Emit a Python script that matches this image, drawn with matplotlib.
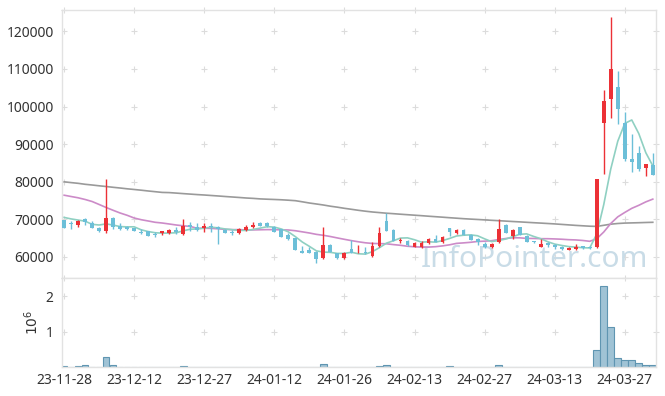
import numpy as np
import pandas as pd
import matplotlib
matplotlib.use('Agg')
import matplotlib.pyplot as plt

plt.rcParams['font.family'] = ['Noto Sans', 'DejaVu Sans']

# daily OHLC (23-11-28 .. 24-04-02, trading days)
opens = [69800, 69000, 68500, 70100, 69100, 67700, 66900, 70300, 68300, 68000,
         67600, 66700, 66900, 66100, 66300, 66400, 67100, 66000, 68500, 68000,
         67800, 68200, 68000, 67200, 66500, 66400, 67200, 67900, 69100, 68900,
         68000, 67300, 65800, 64900, 61600, 61800, 61400, 59600, 63200, 61000,
         59600, 62000, 61000, 61400, 60200, 62900, 69600, 67200, 64300, 64300,
         62700, 62500, 63600, 64800, 63900, 67600, 66400, 67100, 65800, 64800,
         63400, 62600, 64000, 68600, 65600, 67900, 65600, 64200, 62600, 63600,
         63200, 62700, 61800, 62000, 62900, 62600, 62500, 95500, 102100, 105100,
         95700, 86000, 87600, 83600, 84400]
highs = [69900, 69600, 69900, 70400, 69600, 67900, 80700, 70500, 69000, 68300,
         67800, 67400, 67000, 66700, 67000, 67300, 68000, 70000, 69300, 68900,
         68900, 68900, 68200, 67300, 67200, 67600, 68400, 69400, 69300, 69300,
         68300, 67400, 66300, 65000, 63000, 62600, 61500, 67900, 63300, 61100,
         61200, 64500, 63200, 62700, 64000, 68000, 71800, 67300, 65100, 64500,
         64000, 64100, 65000, 65800, 65600, 67800, 67300, 67300, 66000, 65000,
         64000, 63600, 70000, 68800, 67300, 68000, 65700, 64300, 64800, 63900,
         63300, 62900, 62500, 63300, 63000, 62900, 80700, 104400, 123700, 109500,
         98500, 92600, 89500, 84700, 87600]
lows = [67600, 67400, 67900, 68500, 67600, 66700, 66300, 67500, 67200, 67200,
        66800, 66000, 65500, 65300, 65700, 66200, 66000, 65900, 66900, 67000,
        66700, 66700, 63400, 66300, 65800, 66200, 66900, 67800, 68100, 68000,
        66600, 65300, 64500, 61700, 60900, 60900, 58300, 59500, 61300, 59500,
        59500, 60900, 60900, 60800, 60100, 62500, 66900, 64200, 63800, 63000,
        62500, 62300, 63300, 63900, 63700, 65500, 66000, 65700, 64400, 63100,
        62400, 62400, 63700, 66300, 64700, 65700, 63900, 63800, 62500, 62700,
        62000, 61900, 61700, 61900, 62200, 62100, 62400, 82000, 96900, 95400,
        85600, 82700, 82900, 81600, 81700]
closes = [67800, 68800, 69500, 69400, 67800, 66900, 70300, 67900, 67400, 67400,
          67000, 66300, 65600, 65800, 66900, 67100, 66700, 68200, 67900, 67200,
          68300, 67900, 67300, 66400, 66300, 67300, 67900, 68600, 68200, 68200,
          66700, 65400, 64800, 61800, 61000, 61000, 59400, 63200, 61400, 59600,
          61000, 61000, 61100, 61000, 62900, 66300, 67000, 64300, 64500, 63200,
          63800, 63800, 64800, 64000, 65200, 66700, 67100, 65800, 64500, 64000,
          62600, 63400, 67300, 66400, 67100, 65800, 64000, 63900, 63400, 63100,
          62600, 62200, 62400, 62700, 62300, 62300, 80700, 101500, 110000, 99300,
          86000, 85300, 83400, 84600, 81800]
volumes = [40000, 15000, 40000, 65000, 15000, 15000, 300000, 65000, 15000, 15000,
           15000, 10000, 15000, 10000, 10000, 10000, 15000, 40000, 15000, 10000,
           15000, 10000, 15000, 10000, 10000, 10000, 10000, 15000, 10000, 10000,
           15000, 15000, 15000, 20000, 15000, 15000, 20000, 90000, 20000, 15000,
           15000, 15000, 15000, 15000, 20000, 40000, 60000, 20000, 15000, 15000,
           15000, 15000, 15000, 15000, 15000, 40000, 15000, 15000, 15000, 15000,
           15000, 15000, 60000, 20000, 15000, 15000, 15000, 10000, 10000, 10000,
           10000, 10000, 10000, 10000, 10000, 15000, 490000, 2280000, 1140000, 250000,
           205000, 200000, 130000, 65000, 65000]

ma5_head = [70500, 70100, 69800, 69500]
ma20_head = [76410, 76060, 75720, 75270, 74730, 73940, 73140, 72390, 71670, 71060,
             70340, 69890, 69550, 69200, 69010, 68750, 68480, 68270, 68110]
ma_long = [79970, 79760, 79570, 79310, 79120, 78910, 78720, 78510, 78320, 78110,
           77930, 77740, 77530, 77340, 77150, 77100, 76970, 76830, 76700, 76570,
           76460, 76330, 76200, 76060, 75930, 75800, 75660, 75560, 75420, 75340,
           75270, 75190, 75080, 74950, 74650, 74330, 74070, 73800, 73480, 73220,
           72920, 72660, 72390, 72150, 71940, 71780, 71620, 71490, 71350, 71220,
           71090, 70960, 70820, 70690, 70560, 70420, 70290, 70160, 70050, 69950,
           69840, 69730, 69630, 69520, 69410, 69310, 69200, 69090, 68990, 68880,
           68770, 68640, 68510, 68380, 68270, 68160, 68110, 68400, 68700, 68880,
           68990, 69040, 69090, 69150, 69200]

tick_labels = ['23-11-28', '23-12-12', '23-12-27', '24-01-12', '24-01-26',
               '24-02-13', '24-02-27', '24-03-13', '24-03-27']

df = pd.DataFrame({'open': opens, 'high': highs, 'low': lows,
                   'close': closes, 'volume': volumes})
x = np.arange(len(df))
ma5 = df.close.rolling(5).mean().values
ma5[:4] = ma5_head
ma20 = df.close.rolling(20).mean().values
ma20[:19] = ma20_head

up_c = '#ec3136'
down_c = '#6cbfd8'
grid_c = '#dcdcdc'
edge_c = '#e2e2e2'

fig = plt.figure(figsize=(6.65, 3.96), dpi=100)
ax = fig.add_axes([0.0932, 0.2972, 0.8932, 0.6775])
axv = fig.add_axes([0.0932, 0.0725, 0.8932, 0.2247])

xlim = (-0.3, 84.45)
ylim = (54300, 125670)
vlim = (0, 2.5)
xt = np.arange(0, 81, 10)
yt = np.arange(60000, 120001, 10000)
vt = [1, 2]

# grid as small crosses
for a, yy, top in [(ax, yt, ylim[1]), (axv, vt, vlim[1])]:
    gx, gy = np.meshgrid(xt, yy)
    a.plot(gx.ravel(), gy.ravel(), '+', color=grid_c, ms=4, mew=0.8, zorder=0)
    a.plot([xlim[1]] * len(yy), yy, '+', color=grid_c, ms=4, mew=0.8,
           zorder=0, clip_on=False)
    a.plot(xt, [top] * len(xt), '+', color=grid_c, ms=4, mew=0.8,
           zorder=0, clip_on=False)

ax.text(0.9865, 0.042, 'InfoPointer.com', transform=ax.transAxes, ha='right',
        va='baseline', fontsize=21.5, color='#c9dce7', zorder=1)

ax.plot(x, ma_long, color='#9a9a9a', lw=1.2, zorder=2)
ax.plot(x, ma20, color='#cc8bc8', lw=1.2, zorder=2)
ax.plot(x, ma5, color='#8fd0c2', lw=1.2, zorder=2)

up = df.close >= df.open
colors = np.where(up, up_c, down_c)
ax.vlines(x, df.low, df.high, colors=colors, lw=1, zorder=3)
body_lo = np.minimum(df.open, df.close)
body_h = np.maximum((df.close - df.open).abs(), 150)
ax.bar(x, body_h, bottom=body_lo, width=0.55, color=colors, lw=0, zorder=4)

axv.bar(x, df.volume / 1e6, width=0.95, color='#a0c3d5', edgecolor='#5f95b1',
        lw=0.8, zorder=2)

ax.set_xlim(xlim)
ax.set_ylim(ylim)
ax.set_yticks(yt)
ax.set_yticklabels([str(v) for v in yt])
ax.set_xticks([])
axv.set_xlim(xlim)
axv.set_ylim(vlim)
axv.set_yticks(vt)
axv.set_xticks(xt)
axv.set_xticklabels(tick_labels)
axv.set_ylabel(r'$10^6$', fontsize=10, color='#333333', labelpad=3)

for a in (ax, axv):
    for s in a.spines.values():
        s.set_color(edge_c)
        s.set_linewidth(1)
    a.tick_params(length=0, labelsize=10, colors='#333333', pad=6)
axv.tick_params(axis='x', pad=4)

fig.savefig('out.png', dpi=100)
